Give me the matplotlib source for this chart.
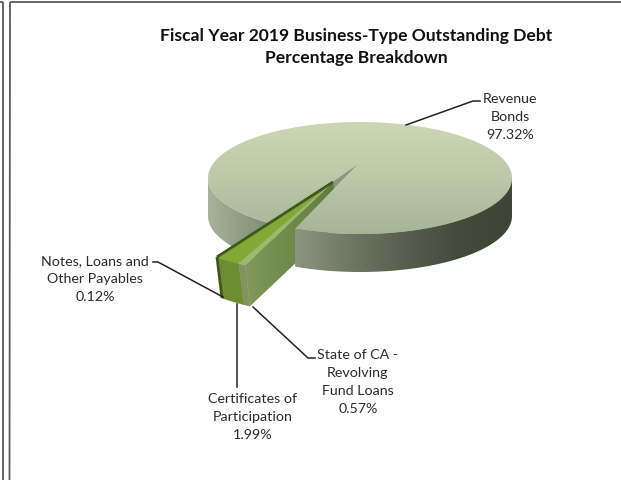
import numpy as np
import matplotlib
matplotlib.use("Agg")
import matplotlib.pyplot as plt
from matplotlib.patches import Polygon
from matplotlib.colors import LinearSegmentedColormap

categories = ["Revenue\nBonds", "Notes, Loans and\nOther Payables",
              "Certificates of\nParticipation", "State of CA -\nRevolving\nFund Loans"]
shares = [97.32, 0.12, 1.99, 0.57]
title_lines = "Fiscal Year 2019 Business-Type Outstanding Debt\nPercentage Breakdown"

plt.rcParams["font.family"] = ["Lato", "DejaVu Sans"]
fig = plt.figure(figsize=(6.21, 4.81), dpi=100, facecolor="white")
ax = fig.add_axes([0, 0, 1, 1])
ax.set_axis_off()


def rim(c, rx, ry, t0, t1, n=120):
    t = np.radians(np.linspace(t0, t1, n))
    return np.column_stack([c[0] - rx * np.cos(t), c[1] + ry * np.sin(t)])


def extrude(top, d):
    return np.vstack([top, top[::-1] + np.asarray(d)])


def shaded(xy, colors, vertical=False, z=1):
    """Fill a polygon with a linear gradient across its bounding box."""
    cmap = LinearSegmentedColormap.from_list("g", colors)
    x0, y0 = xy.min(axis=0)
    x1, y1 = xy.max(axis=0)
    ramp = np.linspace(0, 1, 256)
    grad = ramp[:, None] if vertical else ramp[None, :]
    im = ax.imshow(grad, cmap=cmap, extent=(x0, x1, y1, y0), aspect="auto",
                   zorder=z, interpolation="bilinear", origin="upper")
    im.set_clip_path(Polygon(xy, closed=True, transform=ax.transData))
    return im


def flat(xy, color, z):
    ax.add_patch(Polygon(xy, closed=True, fc=color, ec=color, lw=0.4, zorder=z))


# Angular extents of the slices, in degrees
deg = [s * 3.6 for s in shares]
notch_start = 55.1
notch_end = notch_start + sum(deg[1:])
slice_start = 53.7

# Main slice: disc geometry
centre = (360, 179)
apex = (358, 165)
a, b = 152, 56
depth = (0, 38)

left_side = extrude(rim(centre, a, b, 0, notch_start), depth)
right_side = extrude(rim(centre, a, b, notch_end, 180), depth)
shaded(left_side, ["#a9b39b", "#929d85", "#7d8971"], z=1)

# Inner walls seen through the notch
notch = np.vstack([[apex], rim(centre, a, b, notch_start, notch_end, 6)])
flat(notch, "#8b967f", 2)

# Detached slices: geometry
w_apex = np.array([333, 183])
wx, wy = 196, 93
w_depth = (5, 41)
edges = slice_start + np.cumsum([0] + deg[1:])

outer_state = rim(w_apex, wx, wy, edges[2], edges[3], 10)
cut_top = np.vstack([outer_state[-1:], [w_apex]])
shaded(extrude(cut_top, w_depth), ["#80985c", "#6f8a4b", "#5f7a3f"], z=3)

# Top of the main slice, open at the notch
top_rim = rim(centre, a, b, notch_end, notch_start + 360, 400)
top_poly = np.vstack([top_rim, [apex]])
shaded(top_poly, ["#ccd7b6", "#bcc8a8", "#a7b597"], vertical=True, z=4)
shaded(right_side, ["#8d9682", "#6f7765", "#585f4e", "#454b3a", "#3f4536"], z=5)

# Slice tops and outer faces
top_colors = ["#48691c", "#84a838", "#9dba6c"]
front_colors = ["#3f5c17", "#6e8d33", "#7f9560"]
for i in range(3):
    arc = rim(w_apex, wx, wy, edges[i], edges[i + 1], 12)
    flat(extrude(arc, w_depth), front_colors[i], 6)
    flat(np.vstack([[w_apex], arc]), top_colors[i], 7)

edge_line = rim(w_apex, wx, wy, edges[0], edges[0], 2)[0]
ax.plot([w_apex[0], edge_line[0]], [w_apex[1], edge_line[1]], color="#3d5a18", lw=2, zorder=8,
        solid_capstyle="butt")
ax.plot([edge_line[0], edge_line[0] + w_depth[0]], [edge_line[1], edge_line[1] + w_depth[1]],
        color="#3d5a18", lw=2, zorder=8, solid_capstyle="butt")

# Title
ax.text(356, 47, title_lines, ha="center", va="center", fontsize=12.6, fontweight="bold",
        color="#111111", linespacing=1.45, zorder=10)

# Data labels and their leader lines
label_pos = [(510, 117), (95, 279), (253, 417), (358, 382)]
leaders = [[(406, 126), (473, 102), (480, 102)],
           [(153, 263), (158, 263), (223, 298)],
           [(237, 305), (237, 388)],
           [(253, 308), (308, 359), (315, 359)]]
for cat, val, pos, path in zip(categories, shares, label_pos, leaders):
    ax.text(pos[0], pos[1], f"{cat}\n{val:.2f}%", ha="center", va="center", fontsize=10.3,
            color="#2b2b2b", linespacing=1.62, zorder=10)
    p = np.array(path)
    ax.plot(p[:, 0], p[:, 1], color="#222222", lw=1.1, zorder=9)

# Page frame
for xs, ys in [([3, 3], [3, 481]), ([0, 3], [3, 3]), ([10, 9.5], [3, 481]), ([10, 621], [3, 3])]:
    ax.plot(xs, ys, color="#5a5a5a", lw=1.3, zorder=10, solid_capstyle="butt")

ax.set_xlim(0, 621)
ax.set_ylim(481, 0)
fig.savefig("out.png", dpi=100, facecolor="white")
